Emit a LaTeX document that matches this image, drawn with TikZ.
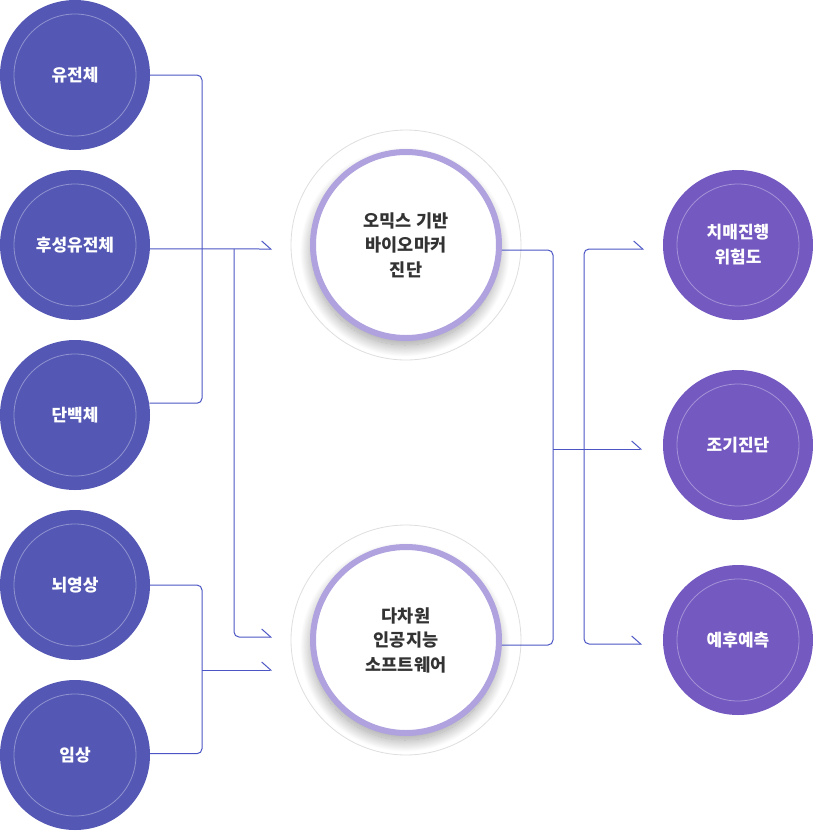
\documentclass[tikz,border=0pt]{standalone}
\usepackage{fontspec}
\setmainfont{Noto Sans CJK KR}
\usetikzlibrary{arrows.meta,shadows.blur}
\definecolor{srcblue}{HTML}{5458B4}
\definecolor{outviolet}{HTML}{7459C1}
\definecolor{ringlilac}{HTML}{B0A2DE}
\definecolor{linkblue}{HTML}{4B56C4}
\definecolor{hubtext}{HTML}{333333}
\tikzset{
  disc/.style={circle,minimum size=150pt,inner sep=0pt,text=white,align=center,
    font=\fontsize{17}{25}\selectfont\bfseries,
    path picture={\draw[white,opacity=.35,line width=.8pt] (path picture bounding box.center) circle[radius=61pt];}},
  src/.style={disc,fill=srcblue},
  outc/.style={disc,fill=outviolet},
  hub/.style={circle,minimum size=186pt,inner sep=0pt,line width=6pt,draw=ringlilac,fill=white,
    text=hubtext,align=center,font=\fontsize{17.5}{24.5}\selectfont\bfseries,
    blur shadow={shadow xshift=-1pt,shadow yshift=-7pt,shadow blur radius=12pt,shadow blur steps=30,shadow opacity=40}},
  halo/.style={draw=black!13,line width=.8pt},
  link/.style={draw=linkblue,line width=1pt,rounded corners=5pt},
  tip/.style={-{Straight Barb[left,length=9pt,width=16pt]}}
}
\begin{document}
\begin{tikzpicture}[x=1pt,y=-1pt]
\useasboundingbox (0,0) rectangle (813,831);
% inputs
\node[src] (gen) at (75,75) {유전체};
\node[src] (epi) at (75,245) {후성유전체};
\node[src] (pro) at (75,415) {단백체};
\node[src] (img) at (75,585) {뇌영상};
\node[src] (cli) at (75,755) {임상};
% hubs
\coordinate (p1) at (406,245);
\coordinate (p2) at (406,640);
\draw[halo] (p1) circle[radius=115];
\draw[halo] (p2) circle[radius=115];
\node[hub] (omx) at (p1) {오믹스 기반\\바이오마커\\진단};
\node[hub] (ai) at (p2) {다차원\\인공지능\\소프트웨어};
% outputs
\node[outc] (risk) at (738,245) {치매진행\\위험도};
\node[outc] (early) at (738,445) {조기진단};
\node[outc] (prog) at (738,640) {예후예측};
% free ends and junctions
\coordinate (in1) at (272,249);
\coordinate (in2) at (272,637);
\coordinate (in3) at (272,670);
\coordinate (bx1) at (202,240);
\coordinate (bx2) at (234,249);
\coordinate (bx3) at (202,670);
\coordinate (jx) at (553,449);
\coordinate (jr) at (584,449);
\coordinate (out1) at (644,249);
\coordinate (out2) at (642,449);
\coordinate (out3) at (642,644);
\draw[link] (gen.0) -| (bx1) |- (pro.9);
\draw[link,tip] (epi.357) -- (in1);
\draw[link,tip] (bx2) |- (in2);
\draw[link] (img.0) -| (bx3) |- (cli.1.5);
\draw[link,tip] (bx3) -- (in3);
\draw[link] (omx.357.5) -| (jx) |- (ai.357.5);
\draw[link,tip] (jx) -- (out2);
\draw[link,tip] (jr) |- (out1);
\draw[link,tip] (jr) |- (out3);
\end{tikzpicture}
\end{document}
